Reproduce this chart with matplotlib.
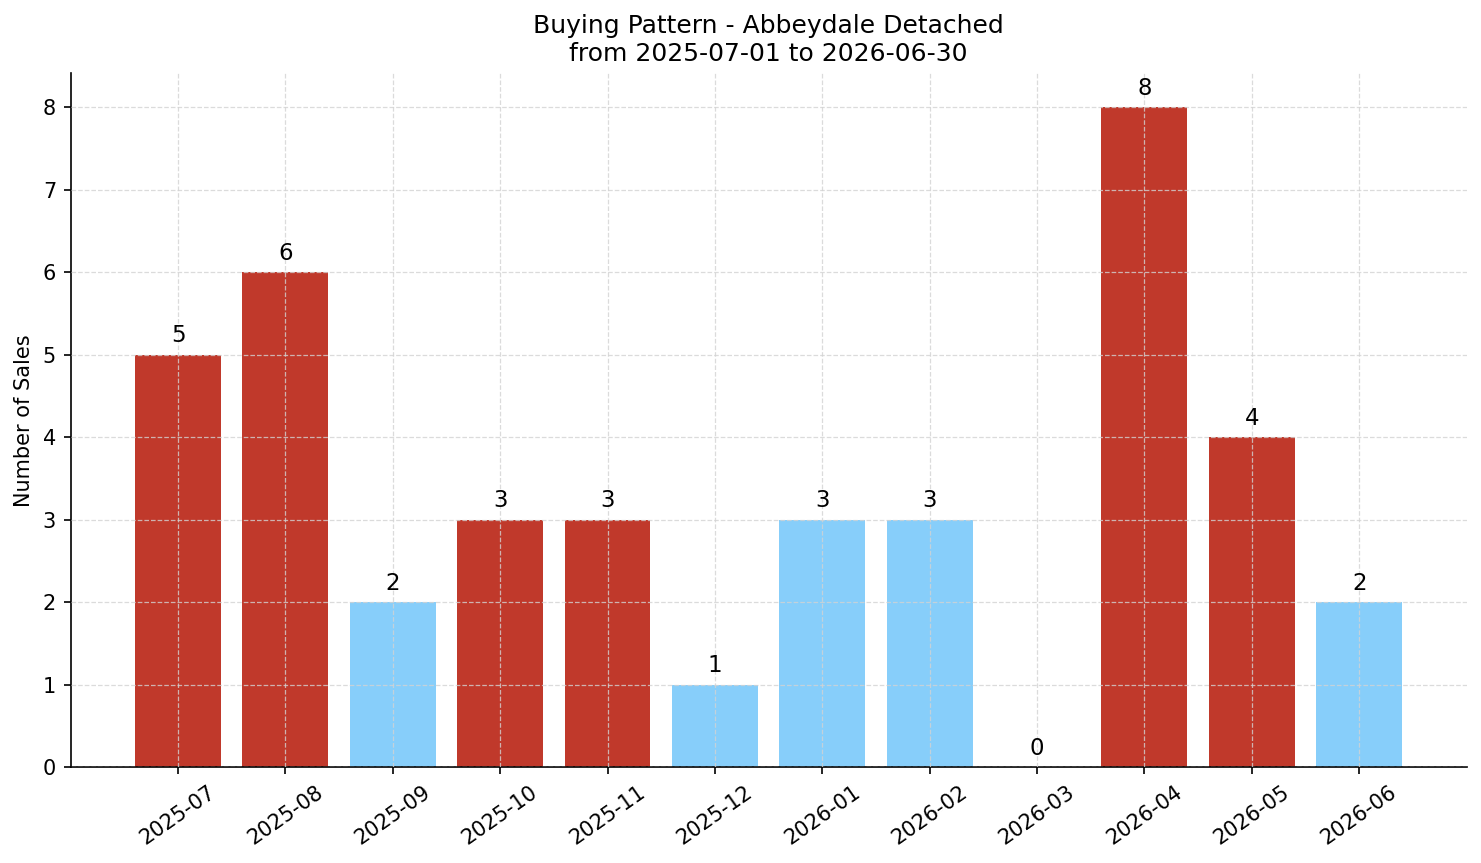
import matplotlib
matplotlib.use("Agg")
import matplotlib.pyplot as plt

# monthly sales counts
months = ['2025-07', '2025-08', '2025-09', '2025-10', '2025-11', '2025-12',
          '2026-01', '2026-02', '2026-03', '2026-04', '2026-05', '2026-06']
sales = [5, 6, 2, 3, 3, 1, 3, 3, 0, 8, 4, 2]
highlighted = [True, True, False, True, True, False,
               False, False, False, True, True, False]

RED = '#c0392b'
BLUE = '#87cefa'

fig = plt.figure(figsize=(9.874, 5.754), dpi=150)
ax = fig.add_axes([0.0477, 0.111, 0.9425, 0.804])

x = list(range(len(months)))
colors = [RED if h else BLUE for h in highlighted]
bars = ax.bar(x, sales, width=0.8, color=colors)

for xi, v in zip(x, sales):
    ax.text(xi, v + 0.09, str(v), ha='center', va='bottom', fontsize=11)

ax.set_xticks(x)
ax.set_xticklabels(months, rotation=35)
ax.set_xlim(-1, 12)
ax.set_ylim(0, 8.41)
ax.set_yticks(range(0, 9))
ax.set_ylabel('Number of Sales')
ax.set_title('Buying Pattern - Abbeydale Detached\nfrom 2025-07-01 to 2026-06-30', fontsize=12)

# grid sits on top of the bars
ax.set_axisbelow(False)
ax.grid(True, linestyle='--', linewidth=0.6, color='#d3d3d3', alpha=0.8)
ax.spines['top'].set_visible(False)
ax.spines['right'].set_visible(False)

fig.savefig('out.png', dpi=150)
